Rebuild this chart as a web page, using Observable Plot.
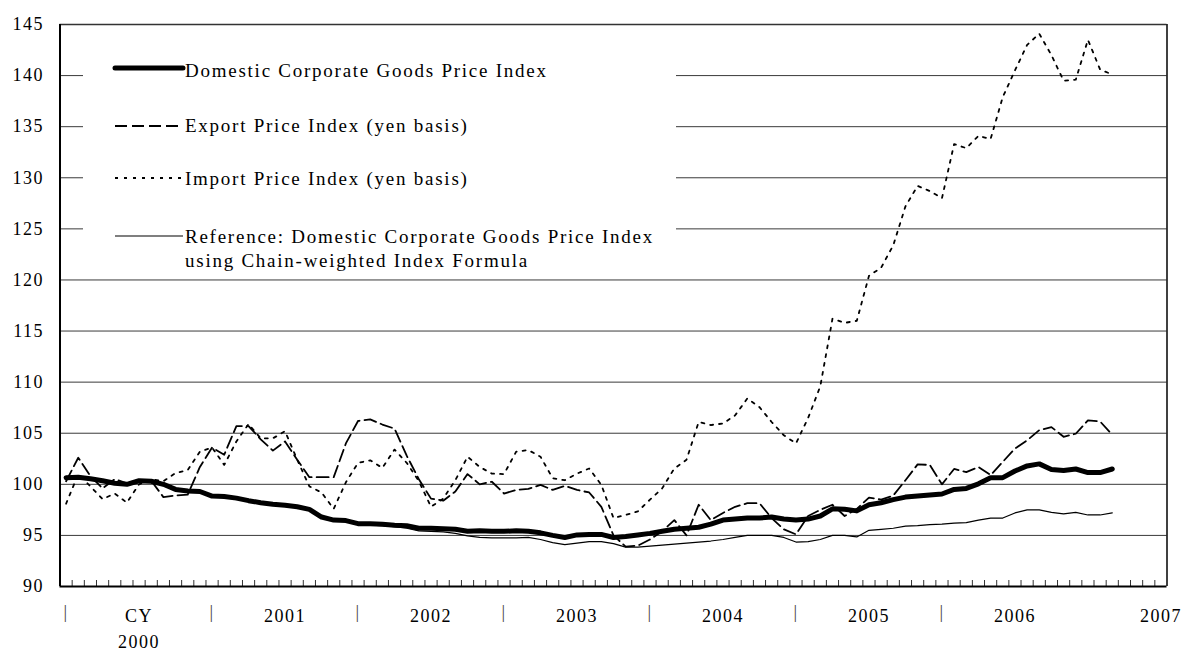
<!DOCTYPE html>
<html><head><meta charset="utf-8">
<script src="https://cdn.jsdelivr.net/npm/d3@7"></script>
<script src="https://cdn.jsdelivr.net/npm/@observablehq/plot@0.6"></script>
<style>
body{margin:0;background:#fff;}
#wrap{position:relative;width:1183px;height:651px;}
#wrap svg text{font-family:"Liberation Serif","Times New Roman",serif;}
#legend{position:absolute;left:83px;top:40px;width:593px;height:236px;background:#fff;}
</style></head><body><div id="wrap"></div>
<script>
// Monthly data, Jan 2000 (index 0) to Mar 2007 (index 86); axis spans 91 months (to Jul 2007)
const startYear = 2000;
const axisMonths = 91;
const yearLabels = ["CY\n2000", "2001", "2002", "2003", "2004", "2005", "2006", "2007"];
const yTicks = [90, 95, 100, 105, 110, 115, 120, 125, 130, 135, 140, 145];

const domestic = [
  100.65, 100.7, 100.55, 100.35, 100.1, 100.0, 100.35, 100.3, 100.0, 99.5,
  99.35, 99.3, 98.85, 98.8, 98.65, 98.4, 98.2, 98.05, 97.95, 97.8,
  97.55, 96.8, 96.5, 96.45, 96.15, 96.15, 96.1, 96.0, 95.95, 95.7,
  95.7, 95.65, 95.6, 95.4, 95.45, 95.4, 95.4, 95.45, 95.4, 95.25,
  95.0, 94.8, 95.05, 95.1, 95.1, 94.8, 94.9, 95.05, 95.2, 95.4,
  95.6, 95.7, 95.8, 96.1, 96.5, 96.6, 96.7, 96.7, 96.8, 96.6,
  96.5, 96.6, 96.9, 97.6, 97.55, 97.4, 98.0, 98.2, 98.5, 98.75,
  98.85, 98.95, 99.05, 99.5, 99.6, 100.05, 100.65, 100.65, 101.3, 101.8,
  102.0, 101.45, 101.35, 101.5, 101.15, 101.15, 101.5
];
const exportIdx = [
  100.3, 102.6, 100.8, 99.6, 100.5, 100.1, 100.3, 100.35, 98.75, 98.9,
  99.0, 101.7, 103.6, 102.9, 105.7, 105.7, 104.4, 103.3, 104.2, 102.4,
  100.7, 100.7, 100.7, 104.0, 106.2, 106.35, 105.85, 105.45, 102.8, 100.5,
  98.6, 98.4, 99.3, 101.0, 100.0, 100.25, 99.1, 99.45, 99.55, 99.95,
  99.45, 99.85, 99.45, 99.2, 97.8, 95.0, 93.9, 94.0, 94.6, 95.4,
  96.5, 95.0, 98.0, 96.5, 97.2, 97.8, 98.15, 98.15, 96.7, 95.6,
  95.1, 96.9, 97.5, 98.0, 96.9, 97.6, 98.7, 98.5, 98.9, 100.4,
  101.95, 101.9, 100.0, 101.5, 101.2, 101.7, 100.9, 102.2, 103.5, 104.3,
  105.3, 105.6, 104.65, 104.95, 106.25, 106.15, 104.85
];
const importIdx = [
  98.1, 101.0, 99.8, 98.55, 99.1, 98.2, 100.0, 100.5, 100.3, 101.1,
  101.4, 103.2, 103.6, 101.9, 104.2, 105.9, 104.5, 104.5, 105.2, 102.4,
  99.8, 99.2, 97.6, 100.2, 102.1, 102.35, 101.6, 103.4, 102.1, 100.3,
  97.8, 98.6, 100.4, 102.7, 101.7, 101.05, 101.0, 103.2, 103.35, 102.7,
  100.6, 100.4, 101.05, 101.55, 99.95, 96.7, 97.0, 97.35, 98.5, 99.6,
  101.55, 102.4, 106.1, 105.8, 105.95, 106.75, 108.4, 107.55, 106.1, 104.8,
  104.0, 106.5, 109.6, 116.2, 115.8, 116.0, 120.4, 121.2, 123.4, 127.2,
  129.2, 128.7, 128.0, 133.3, 132.9, 134.1, 133.8, 137.9, 140.5, 143.0,
  144.1, 142.0, 139.5, 139.6, 143.5, 140.6, 140.1
];
const reference = [
  100.6, 100.65, 100.5, 100.3, 100.05, 99.95, 100.3, 100.25, 99.95, 99.45,
  99.3, 99.25, 98.8, 98.75, 98.6, 98.35, 98.15, 98.0, 97.9, 97.75,
  97.5, 96.75, 96.45, 96.4, 96.05, 96.0, 95.95, 95.85, 95.7, 95.45,
  95.4, 95.35, 95.2, 94.95, 94.8, 94.75, 94.75, 94.75, 94.8, 94.6,
  94.3, 94.1, 94.25, 94.4, 94.4, 94.2, 93.85, 93.85, 93.95, 94.05,
  94.15, 94.25, 94.35, 94.45, 94.6, 94.8, 95.0, 95.0, 95.0, 94.8,
  94.35, 94.4, 94.6, 95.0, 95.0, 94.85, 95.5, 95.6, 95.7, 95.9,
  95.95, 96.05, 96.1, 96.2, 96.25, 96.5, 96.7, 96.7, 97.2, 97.5,
  97.5, 97.25, 97.1, 97.25, 97.0, 97.0, 97.2
];

const seriesLabels = [
  ["Domestic Corporate Goods Price Index"],
  ["Export Price Index (yen basis)"],
  ["Import Price Index (yen basis)"],
  ["Reference: Domestic Corporate Goods Price Index", "using Chain-weighted Index Formula"]
];

const rows = vals => vals.map((v, i) => ({x: i + 0.5, y: v}));
const monthTicks = d3.range(1, axisMonths);
const yearStarts = yearLabels.map((_, k) => k * 12);
const gridVals = yTicks.filter(v => v > 90 && v < 145);

const chart = Plot.plot({
  width: 1183, height: 651,
  marginLeft: 59.5, marginRight: 16.5, marginTop: 24, marginBottom: 65,
  style: {fontFamily: '"Liberation Serif", serif', fontSize: "18px", color: "#000", background: "#fff"},
  x: {domain: [0, axisMonths], axis: null},
  y: {domain: [90, 145]},
  marks: [
    Plot.ruleY(gridVals, {stroke: "#3a3a3a", strokeWidth: 1}),
    Plot.axisY(yTicks, {tickSize: 0, tickPadding: 16, fontSize: 18, label: null, tickFormat: d => String(d)}),
    Plot.line(rows(reference), {x: "x", y: "y", stroke: "#000", strokeWidth: 1.2}),
    Plot.line(rows(importIdx), {x: "x", y: "y", stroke: "#000", strokeWidth: 1.8, strokeDasharray: "3,6"}),
    Plot.line(rows(exportIdx), {x: "x", y: "y", stroke: "#000", strokeWidth: 1.8, strokeDasharray: "12,5"}),
    Plot.line(rows(domestic), {x: "x", y: "y", stroke: "#000", strokeWidth: 5, strokeLinejoin: "round", strokeLinecap: "round"}),
    Plot.ruleX(monthTicks, {x: d => d, insetTop: 556, stroke: "#333", strokeWidth: 1}),
    Plot.ruleY([145], {stroke: "#333", strokeWidth: 1.5}),
    Plot.ruleY([90], {stroke: "#000", strokeWidth: 2}),
    Plot.ruleX([0], {stroke: "#000", strokeWidth: 2}),
    Plot.ruleX([axisMonths], {stroke: "#000", strokeWidth: 1.5}),
    Plot.text(yearStarts.slice(0, 7), {x: d => d + 0.5, text: () => "|", frameAnchor: "bottom", lineAnchor: "top", dy: 19, fontSize: 18, fill: "#444"}),
    Plot.text(yearStarts, {x: d => d + 6.5, text: (d, i) => yearLabels[i], frameAnchor: "bottom", lineAnchor: "top", dy: 17, fontSize: 18, lineHeight: 1.45})
  ]
});
chart.querySelectorAll("text").forEach(t => t.style.letterSpacing = "1.5px");
document.getElementById("wrap").appendChild(chart);

// Legend drawn inside the plot area, as in the reference
const legend = d3.select("#wrap").append("div").attr("id", "legend");
const ls = legend.append("svg").attr("width", 593).attr("height", 236);
const legStyles = [
  {sw: 5, dash: null, cap: "round"},
  {sw: 1.8, dash: "12,5", cap: "butt"},
  {sw: 1.8, dash: "3,6", cap: "butt"},
  {sw: 1.2, dash: null, cap: "butt"}
];
const legY = [28, 86, 138, 196];
const legText = [36.7, 91.7, 145, 202.7];
seriesLabels.forEach((lines, i) => {
  const st = legStyles[i];
  ls.append("line").attr("x1", 32).attr("x2", 100).attr("y1", legY[i]).attr("y2", legY[i])
    .attr("stroke", "#000").attr("stroke-width", st.sw).attr("stroke-linecap", st.cap)
    .attr("stroke-dasharray", st.dash);
  const t = ls.append("text").attr("x", 102).attr("y", legText[i])
    .attr("font-size", 19).attr("fill", "#000").style("letter-spacing", "1.75px");
  lines.forEach((ln, j) => t.append("tspan").attr("x", 102).attr("dy", j === 0 ? 0 : 24).text(ln));
});
</script></body></html>
